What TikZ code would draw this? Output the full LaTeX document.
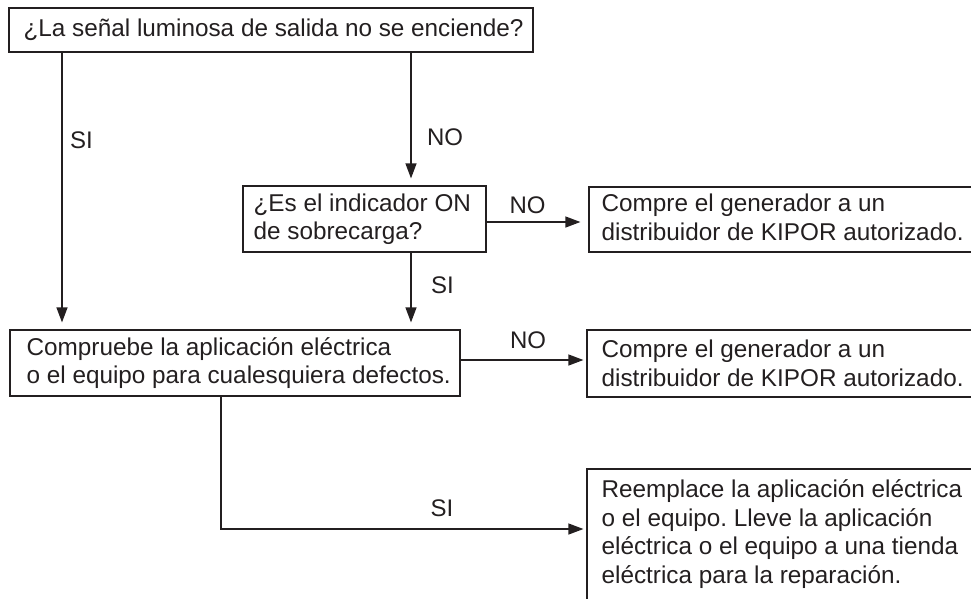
\documentclass[tikz,border=0pt]{standalone}
\usepackage{fontspec}
\setmainfont{Liberation Sans}
\usetikzlibrary{arrows.meta}
\definecolor{ink}{HTML}{231F20}
\begin{document}
\frenchspacing
\begin{tikzpicture}[x=1pt,y=-1pt,
  box/.style={draw=ink, line width=1.2pt, inner sep=0pt},
  txt/.style={inner sep=0pt, align=left, text=ink, font=\fontsize{24.3}{28.5}\selectfont},
  lbl/.style={font=\fontsize{24}{28}\selectfont, inner sep=0pt, text=ink},
  arr/.style={draw=ink, line width=1.2pt, -{Triangle[length=15pt,width=11pt]}}]
\clip (0,0) rectangle (971,598);
\node[box, minimum width=524pt, minimum height=44pt] (b1) at (271,30) {};
\node[box, minimum width=243pt, minimum height=66pt] (b2) at (364.5,219) {};
\node[box, minimum width=401pt, minimum height=65pt] (b3) at (789.5,219.5) {};
\node[box, minimum width=450pt, minimum height=66pt] (b5) at (235,363) {};
\node[box, minimum width=403pt, minimum height=67pt] (b4) at (788.5,363.5) {};
\node[box, minimum width=403pt, minimum height=131pt] (b6) at (788.5,534.5) {};
\node[txt, anchor=west] (t1) at ([xshift=15pt]b1.west)
  {¿La señal luminosa de salida no se enciende?};
\node[txt, anchor=west] (t2) at ([xshift=11pt]b2.west)
  {¿Es el indicador ON\\de sobrecarga?};
\node[txt, anchor=west] (t3) at ([xshift=13pt,yshift=2pt]b3.west)
  {Compre el generador a un\\distribuidor de KIPOR autorizado.};
\node[txt, anchor=west] (t5) at ([xshift=17pt]b5.west)
  {Compruebe la aplicación eléctrica\\o el equipo para cualesquiera defectos.};
\node[txt, anchor=west] (t4) at ([xshift=15pt]b4.west)
  {Compre el generador a un\\distribuidor de KIPOR autorizado.};
\node[txt, anchor=north west] (t6) at ([xshift=15pt,yshift=-11pt]b6.north west)
  {Reemplace la aplicación eléctrica\\o el equipo. Lleve la aplicación\\eléctrica o el equipo a una tienda\\eléctrica para la reparación.};
\coordinate (c1) at (62,0);
\coordinate (c2) at (411,0);
\coordinate (c3) at (221,529);
\draw[arr, shorten >=7pt] (b1.south -| c1) -- (b5.north -| c1);
\draw[arr, shorten >=7pt] (b1.south -| c2) -- (b2.north -| c2);
\draw[arr, shorten >=7pt] (b2.south -| c2) -- (b5.north -| c2);
\draw[arr, shorten >=8pt] ([yshift=-3pt]b2.east) -- ([yshift=-3pt]b3.west |- b2.east);
\draw[arr, shorten >=3pt] ([yshift=3pt]b5.east) -- ([yshift=3pt]b4.west |- b5.east);
\draw[arr, shorten >=3pt] (b5.south -| c3) |- (b6.west |- c3);
\node[lbl] (l1) at (81.5,140) {SI};
\node[lbl] (l2) at (445,137.5) {NO};
\node[lbl] (l3) at (527.5,205) {NO};
\node[lbl] (l4) at (442.5,285) {SI};
\node[lbl] (l5) at (528,340) {NO};
\node[lbl] (l6) at (442,508.5) {SI};
\end{tikzpicture}
\end{document}
